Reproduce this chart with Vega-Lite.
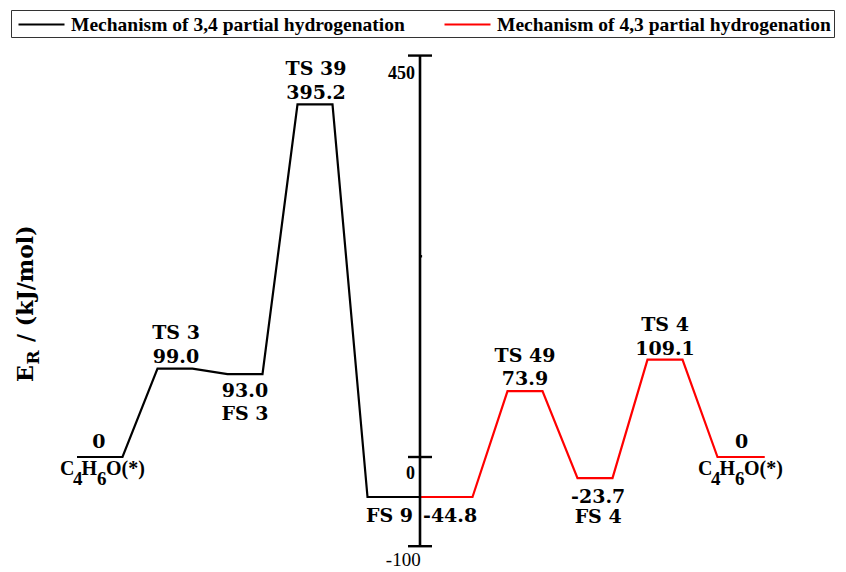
{
  "$schema": "https://vega.github.io/schema/vega-lite/v6.json",
  "width": 846,
  "height": 572,
  "autosize": {"type": "none"},
  "padding": 0,
  "background": "white",
  "config": {
    "view": {"stroke": null}
  },
  "datasets": {
    "path": [
      {"series": "Mechanism of 3,4 partial hydrogenation", "step": 1, "u": -9.8, "v": 0},
      {"series": "Mechanism of 3,4 partial hydrogenation", "step": 2, "u": -8.5, "v": 0},
      {"series": "Mechanism of 3,4 partial hydrogenation", "step": 3, "u": -7.5, "v": 99.0},
      {"series": "Mechanism of 3,4 partial hydrogenation", "step": 4, "u": -6.5, "v": 99.0},
      {"series": "Mechanism of 3,4 partial hydrogenation", "step": 5, "u": -5.5, "v": 93.0},
      {"series": "Mechanism of 3,4 partial hydrogenation", "step": 6, "u": -4.5, "v": 93.0},
      {"series": "Mechanism of 3,4 partial hydrogenation", "step": 7, "u": -3.5, "v": 395.2},
      {"series": "Mechanism of 3,4 partial hydrogenation", "step": 8, "u": -2.5, "v": 395.2},
      {"series": "Mechanism of 3,4 partial hydrogenation", "step": 9, "u": -1.5, "v": -44.8},
      {"series": "Mechanism of 3,4 partial hydrogenation", "step": 10, "u": 0, "v": -44.8},
      {"series": "Mechanism of 4,3 partial hydrogenation", "step": 1, "u": 0, "v": -44.8},
      {"series": "Mechanism of 4,3 partial hydrogenation", "step": 2, "u": 1.5, "v": -44.8},
      {"series": "Mechanism of 4,3 partial hydrogenation", "step": 3, "u": 2.5, "v": 73.9},
      {"series": "Mechanism of 4,3 partial hydrogenation", "step": 4, "u": 3.5, "v": 73.9},
      {"series": "Mechanism of 4,3 partial hydrogenation", "step": 5, "u": 4.5, "v": -23.7},
      {"series": "Mechanism of 4,3 partial hydrogenation", "step": 6, "u": 5.5, "v": -23.7},
      {"series": "Mechanism of 4,3 partial hydrogenation", "step": 7, "u": 6.5, "v": 109.1},
      {"series": "Mechanism of 4,3 partial hydrogenation", "step": 8, "u": 7.5, "v": 109.1},
      {"series": "Mechanism of 4,3 partial hydrogenation", "step": 9, "u": 8.5, "v": 0},
      {"series": "Mechanism of 4,3 partial hydrogenation", "step": 10, "u": 9.85, "v": 0}
    ],
    "axisline": [
      {"u": 0, "v": -100, "v2": 450}
    ],
    "ticks": [
      {"u": -0.343, "u2": 0.343, "v": 450},
      {"u": -0.343, "u2": 0.343, "v": 0},
      {"u": -0.343, "u2": 0.343, "v": -100},
      {"u": 0, "u2": 0.06, "v": 225}
    ],
    "centerLabels": [
      {"text": "0", "u": -9.177, "v": 9.8},
      {"text": "TS 3", "u": -6.971, "v": 132.3},
      {"text": "99.0", "u": -6.971, "v": 105.4},
      {"text": "93.0", "u": -5.0, "v": 67.3},
      {"text": "FS 3", "u": -5.0, "v": 41.5},
      {"text": "TS 39", "u": -2.971, "v": 427.7},
      {"text": "395.2", "u": -2.971, "v": 401.3},
      {"text": "TS 49", "u": 3.0, "v": 106.5},
      {"text": "73.9", "u": 3.0, "v": 80.2},
      {"text": "-23.7", "u": 5.09, "v": -51.6},
      {"text": "FS 4", "u": 5.09, "v": -74.0},
      {"text": "TS 4", "u": 7.0, "v": 140.7},
      {"text": "109.1", "u": 7.0, "v": 114.3},
      {"text": "0", "u": 9.19, "v": 9.8}
    ],
    "rightLabels": [
      {"text": "FS 9", "u": -0.2, "v": -72.5}
    ],
    "leftLabels": [
      {"text": "-44.8", "u": 0.086, "v": -72.5}
    ],
    "formula": [
      {"text": "C", "u": -10.286, "v": -20.2},
      {"text": "H", "u": -9.671, "v": -20.2},
      {"text": "O(*)", "u": -8.971, "v": -20.2},
      {"text": "C", "u": 7.943, "v": -20.2},
      {"text": "H", "u": 8.557, "v": -20.2},
      {"text": "O(*)", "u": 9.257, "v": -20.2}
    ],
    "formulaSub": [
      {"text": "4", "u": -9.914, "v": -31.4},
      {"text": "6", "u": -9.229, "v": -31.4},
      {"text": "4", "u": 8.314, "v": -31.4},
      {"text": "6", "u": 9.0, "v": -31.4}
    ],
    "tickBold": [
      {"text": "450", "u": -0.143, "v": 423.8},
      {"text": "0", "u": -0.143, "v": -24.7}
    ],
    "tickPlain": [
      {"text": "-100", "u": 0.02, "v": -122.2}
    ],
    "titleMain": [
      {"text": "E", "u": -11.057, "v": 84.1},
      {"text": "/ (kJ/mol)", "u": -11.057, "v": 129.0}
    ],
    "titleSub": [
      {"text": "R", "u": -10.9, "v": 103.6}
    ]
  },
  "encoding": {
    "x": {"field": "u", "type": "quantitative", "scale": {"domain": [-12, 12.1714], "nice": false, "zero": false}, "axis": null},
    "y": {"field": "v", "type": "quantitative", "scale": {"domain": [-128.9, 512.3], "nice": false, "zero": false}, "axis": null}
  },
  "layer": [
    {
      "data": {"name": "path"},
      "mark": {"type": "line", "strokeWidth": 2.2},
      "encoding": {
        "order": {"field": "step", "type": "quantitative"},
        "color": {
          "field": "series",
          "type": "nominal",
          "scale": {
            "domain": ["Mechanism of 3,4 partial hydrogenation", "Mechanism of 4,3 partial hydrogenation"],
            "range": ["#000000", "#ff0000"]
          },
          "legend": {
            "title": null,
            "orient": "none",
            "legendX": 11,
            "legendY": 10,
            "direction": "horizontal",
            "columns": 2,
            "symbolType": "M-0.7,0H3.9",
            "symbolSize": 400,
            "symbolStrokeWidth": 2.2,
            "labelFont": "Liberation Serif",
            "labelFontWeight": "bold",
            "labelFontSize": 19.5,
            "labelColor": "#000000",
            "labelOffset": 34,
            "labelLimit": 600,
            "columnPadding": 35,
            "padding": 3,
            "strokeColor": "#333333",
            "fillColor": "white"
          }
        }
      }
    },
    {
      "data": {"name": "axisline"},
      "mark": {"type": "rule", "color": "#000000", "strokeWidth": 2.6},
      "encoding": {"y2": {"field": "v2"}}
    },
    {
      "data": {"name": "ticks"},
      "mark": {"type": "rule", "color": "#000000", "strokeWidth": 2.4},
      "encoding": {"x2": {"field": "u2"}}
    },
    {
      "data": {"name": "centerLabels"},
      "mark": {"type": "text", "font": "DejaVu Serif", "fontWeight": "bold", "fontSize": 19, "align": "center", "baseline": "alphabetic", "color": "#000000"},
      "encoding": {"text": {"field": "text"}}
    },
    {
      "data": {"name": "rightLabels"},
      "mark": {"type": "text", "font": "DejaVu Serif", "fontWeight": "bold", "fontSize": 19, "align": "right", "baseline": "alphabetic", "color": "#000000"},
      "encoding": {"text": {"field": "text"}}
    },
    {
      "data": {"name": "leftLabels"},
      "mark": {"type": "text", "font": "DejaVu Serif", "fontWeight": "bold", "fontSize": 19, "align": "left", "baseline": "alphabetic", "color": "#000000"},
      "encoding": {"text": {"field": "text"}}
    },
    {
      "data": {"name": "formula"},
      "mark": {"type": "text", "font": "Liberation Serif", "fontWeight": "bold", "fontSize": 20, "align": "left", "baseline": "alphabetic", "color": "#000000"},
      "encoding": {"text": {"field": "text"}}
    },
    {
      "data": {"name": "formulaSub"},
      "mark": {"type": "text", "font": "Liberation Serif", "fontWeight": "bold", "fontSize": 19, "align": "left", "baseline": "alphabetic", "color": "#000000"},
      "encoding": {"text": {"field": "text"}}
    },
    {
      "data": {"name": "tickBold"},
      "mark": {"type": "text", "font": "Liberation Serif", "fontWeight": "bold", "fontSize": 18, "align": "right", "baseline": "alphabetic", "color": "#000000"},
      "encoding": {"text": {"field": "text"}}
    },
    {
      "data": {"name": "tickPlain"},
      "mark": {"type": "text", "font": "Liberation Serif", "fontWeight": "normal", "fontSize": 19, "align": "right", "baseline": "alphabetic", "color": "#000000"},
      "encoding": {"text": {"field": "text"}}
    },
    {
      "data": {"name": "titleMain"},
      "mark": {"type": "text", "font": "DejaVu Serif", "fontWeight": "bold", "fontSize": 22, "align": "left", "baseline": "alphabetic", "angle": 270, "color": "#000000"},
      "encoding": {"text": {"field": "text"}}
    },
    {
      "data": {"name": "titleSub"},
      "mark": {"type": "text", "font": "DejaVu Serif", "fontWeight": "bold", "fontSize": 17, "align": "left", "baseline": "alphabetic", "angle": 270, "color": "#000000"},
      "encoding": {"text": {"field": "text"}}
    }
  ]
}
